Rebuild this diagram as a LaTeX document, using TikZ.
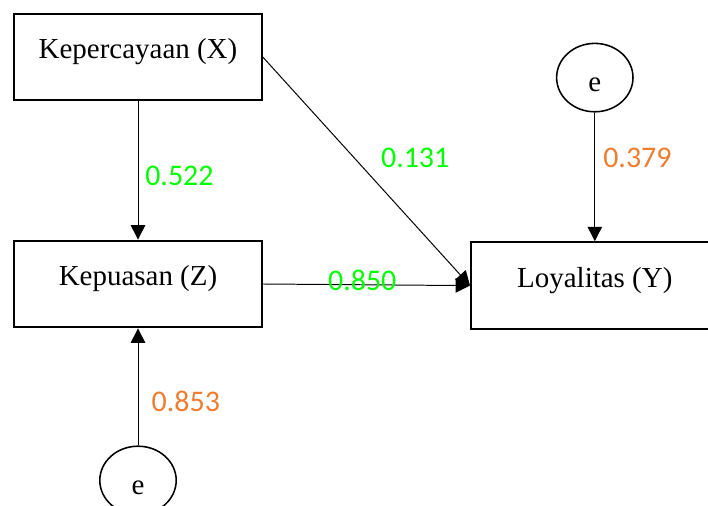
\documentclass[tikz,border=0pt]{standalone}
\usepackage{fontspec}
\setmainfont{Liberation Serif}
\newfontfamily\coeffont{Carlito}
\usetikzlibrary{shapes.geometric, arrows.meta, positioning, calc}
\usepackage{xcolor}
\definecolor{coefGreen}{RGB}{0, 255, 0}
\definecolor{errOrange}{RGB}{237, 125, 49}

\begin{document}
\begin{tikzpicture}[
    box/.style={rectangle, draw, line width=1.4pt, minimum width=6.19cm, minimum height=2.17cm, text height=14pt, text depth=12pt, font=\fontsize{20.6}{24}\selectfont},
    err/.style={ellipse, draw, line width=1.1pt, minimum width=1.91cm, minimum height=1.71cm, inner sep=0pt, text height=20pt, text depth=0pt, font=\fontsize{20.6}{24}\selectfont},
    arrow/.style={-{Triangle[length=0.36cm, width=0.36cm]}, line width=0.7pt},
    coef/.style={inner sep=0pt, font=\coeffont\fontsize{21.3}{25}\selectfont}
]
\clip (0,0) rectangle (17.7,12.65);
\useasboundingbox (0,0) rectangle (17.7,12.65);

% Variables and error terms
\node[box] (kepercayaan) at (3.45, 11.225) {Kepercayaan (X)};
\node[box] (kepuasan)    at (3.45, 5.55)   {Kepuasan (Z)};
\node[box] (loyalitas)   at (14.87, 5.51)  {Loyalitas (Y)};
\node[err] (errY) at (14.87, 10.71) {e};
\node[err] (errZ) at (3.45, 0.64)   {e};

% Paths with coefficients
\draw[arrow] (kepercayaan.south) -- node[coef, pos=0.54, anchor=west, xshift=0.17cm, text=coefGreen] (cXZ) {0.522} (kepuasan.north);
\draw[arrow] (kepercayaan.east) -- node[coef, pos=0.443, anchor=west, xshift=0.65cm, text=coefGreen] (cXY) {0.131} (loyalitas.west);
\draw[arrow] (kepuasan.east) -- node[coef, pos=0.48, yshift=0.11cm, text=coefGreen] (cZY) {0.850} (loyalitas.west);
\draw[arrow] (errY.south) -- node[coef, pos=0.35, anchor=west, xshift=0.2cm, text=errOrange] (cEY) {0.379} (loyalitas.north);
\draw[arrow] (errZ.north) -- node[coef, pos=0.38, anchor=west, xshift=0.33cm, text=errOrange] (cEZ) {0.853} (kepuasan.south);

\end{tikzpicture}
\end{document}
